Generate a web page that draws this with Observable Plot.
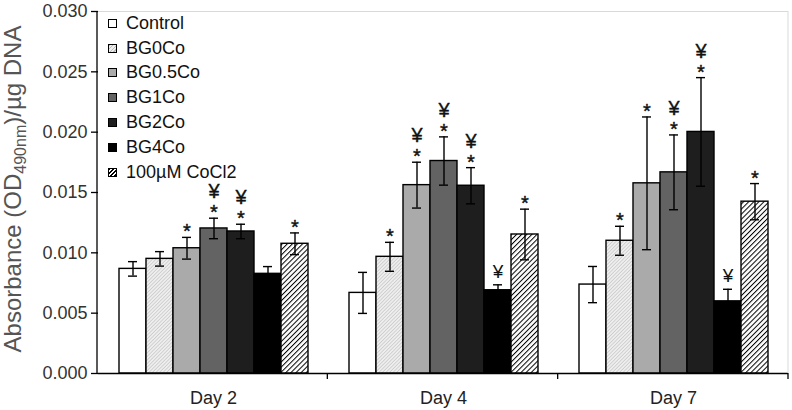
<!DOCTYPE html>
<html>
<head>
<meta charset="utf-8">
<script src="https://cdn.jsdelivr.net/npm/d3@7"></script>
<script src="https://cdn.jsdelivr.net/npm/@observablehq/plot@0.6"></script>
<style>
  html, body { margin: 0; padding: 0; background: #fff; }
  #wrap { position: relative; width: 792px; height: 410px; font-family: "Liberation Sans", Arial, sans-serif; }
  #legend { position: absolute; left: 108px; top: 11px; font-size: 18px; color: #111; }
  #legend .row { height: 24.8px; display: flex; align-items: center; }
  #legend .sw { width: 7px; height: 7px; border: 1px solid #000; margin-right: 9px; box-sizing: content-box; }
</style>
</head>
<body>
<div id="wrap"></div>
<script>
const days = ["Day 2", "Day 4", "Day 7"];
const groups = ["Control", "BG0Co", "BG0.5Co", "BG1Co", "BG2Co", "BG4Co", "100µM CoCl2"];
const meanDay2 = [0.00867, 0.0095, 0.01038, 0.01202, 0.01177, 0.00826, 0.01075];
const errDay2  = [0.0006, 0.0006, 0.0009, 0.00085, 0.0006, 0.0006, 0.0009];
const sigDay2  = ["", "", "*", "¥*", "¥*", "", "*"];
const meanDay4 = [0.00668, 0.00967, 0.01561, 0.01761, 0.01556, 0.0069, 0.01152];
const errDay4  = [0.0017, 0.0012, 0.0019, 0.002, 0.0015, 0.00045, 0.0021];
const sigDay4  = ["", "*", "¥*", "¥*", "¥*", "¥", "*"];
const meanDay7 = [0.00737, 0.011, 0.01576, 0.01667, 0.02002, 0.00598, 0.01424];
const errDay7  = [0.0015, 0.0012, 0.0055, 0.0031, 0.0045, 0.001, 0.0015];
const sigDay7  = ["", "*", "*", "¥*", "¥*", "¥", "*"];
const yTicks = [0, 0.005, 0.01, 0.015, 0.02, 0.025, 0.03];

const fills = ["#ffffff", "url(#hatchLight)", "#aaaaaa", "#636363", "#1e1e1e", "#000000", "url(#hatchDark)"];
const swatches = ["#fff",
  "repeating-linear-gradient(135deg,#bbb 0 1px,#eee 1px 2.5px)",
  "#aaa", "#636363", "#1e1e1e", "#000",
  "repeating-linear-gradient(135deg,#000 0 1.4px,#fff 1.4px 2.8px)"];

const series = [[meanDay2, errDay2, sigDay2], [meanDay4, errDay4, sigDay4], [meanDay7, errDay7, sigDay7]];
const data = [];
days.forEach((day, di) => {
  const [m, e, s] = series[di];
  groups.forEach((g, gi) => data.push({day, group: g, mean: m[gi], lo: m[gi] - e[gi], hi: m[gi] + e[gi], sig: s[gi]}));
});

const font = "Liberation Sans, Arial, sans-serif";
const plot = Plot.plot({
  width: 792, height: 410,
  marginLeft: 97, marginRight: 4, marginTop: 11, marginBottom: 37,
  style: {fontFamily: font, background: "#fff"},
  fx: {domain: days, padding: 0, label: null},
  x: {domain: groups, paddingInner: 0, paddingOuter: 0.73, axis: null},
  y: {domain: [0, 0.03], label: null},
  color: {type: "ordinal", domain: groups, range: fills},
  marks: [
    Plot.ruleY([0.03], {stroke: "#d9d9d9", strokeWidth: 1}),
    Plot.axisY({ticks: yTicks, tickFormat: d3.format(".3f"), tickSize: 7, tickPadding: 4, fontSize: 18, fill: "#333", stroke: "#000", strokeWidth: 1.3, label: null}),
    Plot.axisFx({anchor: "bottom", tickSize: 0, tickPadding: 18, fontSize: 18, fill: "#222", label: null}),
    Plot.barY(data, {fx: "day", x: "group", y: "mean", fill: "group", stroke: "#000", strokeWidth: 1.4}),
    Plot.ruleX(data, {fx: "day", x: "group", y1: "lo", y2: "hi", stroke: "#000", strokeWidth: 1.4}),
    Plot.tickY(data, {fx: "day", x: "group", y: "lo", stroke: "#000", strokeWidth: 1.4, insetLeft: 9, insetRight: 9}),
    Plot.tickY(data, {fx: "day", x: "group", y: "hi", stroke: "#000", strokeWidth: 1.4, insetLeft: 9, insetRight: 9}),
    Plot.text(data.filter(d => d.sig.endsWith("*")), {fx: "day", x: "group", y: "hi",
      text: d => d.sig === "¥*" ? "¥\n*" : "*", lineAnchor: "bottom", lineHeight: 1.05, dy: 1, fontSize: 20, fill: "#111", stroke: "#111", strokeWidth: 0.4}),
    Plot.text(data.filter(d => d.sig === "¥"), {fx: "day", x: "group", y: "hi", text: "sig",
      lineAnchor: "bottom", dy: -7, fontSize: 19, fill: "#111"}),
    Plot.ruleY([0], {stroke: "#000", strokeWidth: 1.4})
  ]
});

// patterns
const svg = d3.select(plot);
const defs = svg.insert("defs", ":first-child");
const p1 = defs.append("pattern").attr("id", "hatchLight").attr("patternUnits", "userSpaceOnUse")
  .attr("width", 2.5).attr("height", 2.5).attr("patternTransform", "rotate(45)");
p1.append("rect").attr("width", 2.5).attr("height", 2.5).attr("fill", "#eeeeee");
p1.append("line").attr("x1", 0).attr("y1", 0).attr("x2", 0).attr("y2", 2.5).attr("stroke", "#b5b5b5").attr("stroke-width", 1);
const p2 = defs.append("pattern").attr("id", "hatchDark").attr("patternUnits", "userSpaceOnUse")
  .attr("width", 3.6).attr("height", 3.6).attr("patternTransform", "rotate(45)");
p2.append("rect").attr("width", 3.6).attr("height", 3.6).attr("fill", "#ffffff");
p2.append("line").attr("x1", 0).attr("y1", 0).attr("x2", 0).attr("y2", 3.6).attr("stroke", "#000").attr("stroke-width", 2);

// frame lines from scales
const fxS = plot.scale("fx"), yS = plot.scale("y");
const fxScale = d3.scaleBand().domain(fxS.domain).range(fxS.range).paddingInner(0).paddingOuter(0);
const yScale = d3.scaleLinear().domain(yS.domain).range(yS.range);
const g = svg.append("g").attr("stroke", "#000").attr("stroke-width", 1.3);
const left = fxScale.range()[0], right = fxScale.range()[1];
g.append("line").attr("x1", left).attr("x2", left).attr("y1", yScale(0.03)).attr("y2", yScale(0));
svg.append("line").attr("x1", right).attr("x2", right).attr("y1", yScale(0.03)).attr("y2", yScale(0)).attr("stroke", "#d9d9d9");
days.slice(1).forEach(d => {
  const x = fxScale(d);
  g.append("line").attr("x1", x).attr("x2", x).attr("y1", yScale(0)).attr("y2", yScale(0) + 6);
});
g.append("line").attr("x1", right).attr("x2", right).attr("y1", yScale(0)).attr("y2", yScale(0) + 6);

// y label with subscript
const lab = svg.append("text").attr("transform", `translate(21,${(yScale(0.03) + yScale(0)) / 2 - 3}) rotate(-90)`)
  .attr("text-anchor", "middle").attr("font-size", 24).attr("fill", "#555").attr("font-family", font);
lab.append("tspan").text("Absorbance (OD");
lab.append("tspan").attr("font-size", 16).attr("dy", 5).text("490nm");
lab.append("tspan").attr("dy", -5).text(")/µg DNA");

const wrap = document.getElementById("wrap");
wrap.appendChild(plot);
const legend = document.createElement("div");
legend.id = "legend";
groups.forEach((gname, i) => {
  const row = document.createElement("div");
  row.className = "row";
  const sw = document.createElement("div");
  sw.className = "sw";
  sw.style.background = swatches[i];
  const t = document.createElement("span");
  t.textContent = gname;
  row.appendChild(sw); row.appendChild(t);
  legend.appendChild(row);
});
wrap.appendChild(legend);
</script>
</body>
</html>
